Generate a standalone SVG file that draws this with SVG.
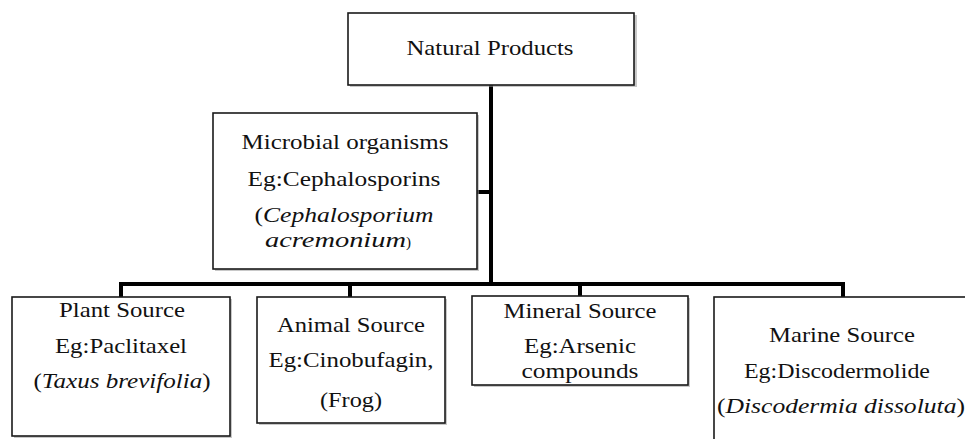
<svg xmlns="http://www.w3.org/2000/svg" width="965" height="439" viewBox="0 0 965 439" font-family="Liberation Serif, serif">
<defs>
<style>
.box{fill:#fff;stroke:#1a1a1a;stroke-width:1.6}
.shadow{fill:#9a9a9a;opacity:0.55}
.t{font-size:22px;fill:#111;text-anchor:middle}
.i{font-style:italic}
.conn{stroke:#000;stroke-width:4;fill:none;stroke-linecap:square}
</style>
</defs>
<rect width="965" height="439" fill="#fff"/>
<g id="connectors">
<path class="conn" d="M491 85 V284"/>
<path class="conn" d="M478 192 H491"/>
<path class="conn" d="M121 284 H843"/>
<path class="conn" d="M121 284 V296"/>
<path class="conn" d="M350 284 V296"/>
<path class="conn" d="M580 284 V296"/>
<path class="conn" d="M843 284 V296"/>
</g>
<g id="natural-products">
<rect class="shadow" x="350" y="15" width="287" height="72"/>
<rect class="box" x="348" y="13" width="286" height="72"/>
<text class="t" x="490" y="55" textLength="167" lengthAdjust="spacingAndGlyphs">Natural Products</text>
</g>
<g id="microbial">
<rect class="shadow" x="215" y="115" width="264" height="156"/>
<rect class="box" x="213" y="113" width="264" height="156"/>
<text class="t" x="345" y="149" textLength="207" lengthAdjust="spacingAndGlyphs">Microbial organisms</text>
<text class="t" x="344" y="186" textLength="193" lengthAdjust="spacingAndGlyphs">Eg:Cephalosporins</text>
<text class="t" x="344" y="222" textLength="179" lengthAdjust="spacingAndGlyphs">(<tspan class="i">Cephalosporium</tspan></text>
<text class="t" x="338" y="247"><tspan class="i" textLength="141" lengthAdjust="spacingAndGlyphs">acremonium</tspan><tspan font-size="15">)</tspan></text>
</g>
<g id="plant">
<rect class="shadow" x="14" y="299" width="218" height="139"/>
<rect class="box" x="12" y="297" width="218" height="139"/>
<text class="t" x="122" y="317" textLength="126" lengthAdjust="spacingAndGlyphs">Plant Source</text>
<text class="t" x="121" y="353" textLength="132" lengthAdjust="spacingAndGlyphs">Eg:Paclitaxel</text>
<text class="t" x="122" y="388" textLength="177" lengthAdjust="spacingAndGlyphs">(<tspan class="i">Taxus brevifolia</tspan>)</text>
</g>
<g id="animal">
<rect class="shadow" x="259" y="299" width="188" height="126"/>
<rect class="box" x="257" y="297" width="188" height="126"/>
<text class="t" x="351" y="332" textLength="148" lengthAdjust="spacingAndGlyphs">Animal Source</text>
<text class="t" x="351" y="367" textLength="165" lengthAdjust="spacingAndGlyphs">Eg:Cinobufagin,</text>
<text class="t" x="351" y="407" textLength="62" lengthAdjust="spacingAndGlyphs">(Frog)</text>
</g>
<g id="mineral">
<rect class="shadow" x="474" y="298" width="216" height="89"/>
<rect class="box" x="472" y="296" width="216" height="89"/>
<text class="t" x="580" y="318" textLength="153" lengthAdjust="spacingAndGlyphs">Mineral Source</text>
<text class="t" x="580" y="353" textLength="112" lengthAdjust="spacingAndGlyphs">Eg:Arsenic</text>
<text class="t" x="580" y="378" textLength="117" lengthAdjust="spacingAndGlyphs">compounds</text>
</g>
<g id="marine">
<rect class="shadow" x="716" y="299" width="260" height="150"/>
<rect class="box" x="714" y="297" width="260" height="150"/>
<text class="t" x="842" y="342" textLength="146" lengthAdjust="spacingAndGlyphs">Marine Source</text>
<text class="t" x="837" y="378" textLength="186" lengthAdjust="spacingAndGlyphs">Eg:Discodermolide</text>
<text class="t" x="841" y="413" textLength="248" lengthAdjust="spacingAndGlyphs">(<tspan class="i">Discodermia dissoluta</tspan>)</text>
</g>
</svg>
